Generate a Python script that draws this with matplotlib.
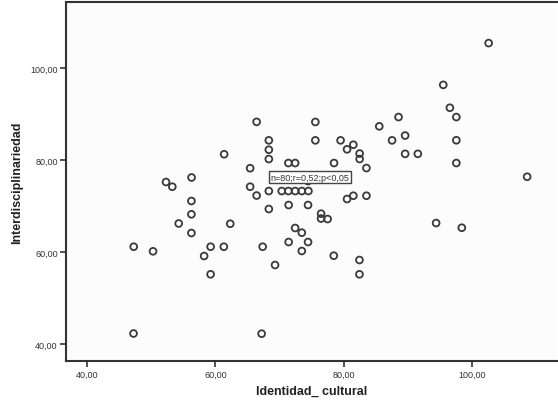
"""Scatter of Identidad_cultural vs Interdisciplinariedad (SPSS style)."""

import matplotlib

matplotlib.use("Agg")
import matplotlib.pyplot as plt
from matplotlib.ticker import FuncFormatter

# values
identidad_cultural = [
    47.28, 50.29, 47.25, 52.31, 53.29, 54.29, 56.29, 56.27, 56.27, 56.27,
    58.25, 59.26, 59.26, 61.32, 61.37, 62.32, 65.42, 65.42, 66.43, 66.43,
    67.37, 67.21, 68.33, 68.33, 68.33, 68.33, 68.33, 69.30, 70.34, 71.38,
    72.43, 73.47, 74.50, 71.38, 72.43, 71.42, 74.44, 72.43, 73.47, 71.42,
    74.44, 73.47, 75.58, 75.58, 76.47, 76.47, 77.49, 78.45, 78.49, 79.51,
    80.52, 81.50, 80.52, 81.50, 83.54, 82.48, 82.48, 83.54, 82.45, 82.45,
    85.54, 87.53, 88.54, 89.57, 89.57, 91.55, 94.40, 95.51, 96.54, 97.55,
    97.55, 97.55, 98.40, 102.58, 108.58, 74.44,
]
interdisciplinariedad = [
    61.15, 60.15, 42.28, 75.22, 74.20, 66.20, 76.20, 71.09, 68.20, 64.13,
    59.13, 61.15, 55.15, 61.15, 81.26, 66.15, 78.22, 74.20, 88.30, 72.28,
    61.15, 42.24, 84.28, 82.24, 80.22, 73.26, 69.35, 57.17, 73.26, 73.26,
    73.26, 73.26, 73.26, 79.35, 79.35, 70.22, 70.22, 65.22, 64.20, 62.17,
    62.17, 60.22, 88.28, 84.28, 68.33, 67.28, 67.17, 59.20, 79.35, 84.28,
    82.33, 83.33, 71.52, 72.24, 72.24, 81.41, 80.22, 78.26, 58.26, 55.15,
    87.33, 84.28, 89.35, 85.33, 81.35, 81.35, 66.30, 96.35, 91.37, 89.35,
    84.30, 79.35, 65.28, 105.43, 76.37, 75.43,
]
x_ticks = [40, 60, 80, 100]
y_ticks = [40, 60, 80, 100]
annotation = "n=80;r=0,52;p<0,05"

plt.rcParams["font.family"] = ["Liberation Sans", "DejaVu Sans"]

fig = plt.figure(figsize=(5.58, 4.06), dpi=100)
ax = fig.add_axes([0.1183, 0.1084, 0.88, 0.884])
ax.set_facecolor("#fcfcfc")

ax.scatter(
    identidad_cultural,
    interdisciplinariedad,
    s=24,
    facecolors="none",
    edgecolors="#3a3a3a",
    linewidths=1.3,
    zorder=3,
)

ax.text(
    74.75, 76.3, annotation,
    fontsize=6.5, ha="center", va="center", color="#333333", zorder=4,
    bbox=dict(boxstyle="square,pad=0.15", facecolor="white", edgecolor="#444444", linewidth=1.0),
)

ax.set_xlim(36.73, 113.24)
ax.set_ylim(36.30, 114.35)
ax.set_xticks(x_ticks)
ax.set_yticks(y_ticks)
comma_fmt = FuncFormatter(lambda v, pos: f"{v:.2f}".replace(".", ","))
ax.xaxis.set_major_formatter(comma_fmt)
ax.yaxis.set_major_formatter(comma_fmt)
ax.tick_params(axis="both", direction="out", length=4, width=1.2, labelsize=6.5,
               colors="#333333", pad=2)

for side in ["left", "bottom", "top"]:
    ax.spines[side].set_color("#333333")
    ax.spines[side].set_linewidth(1.5)
ax.spines["right"].set_visible(False)

ax.set_xlabel("Identidad_ cultural", fontsize=9, fontweight="bold", color="#222222", labelpad=5)
ax.set_ylabel("Interdisciplinariedad", fontsize=9, fontweight="bold", color="#222222", labelpad=5)

fig.savefig("out.png", dpi=100)
